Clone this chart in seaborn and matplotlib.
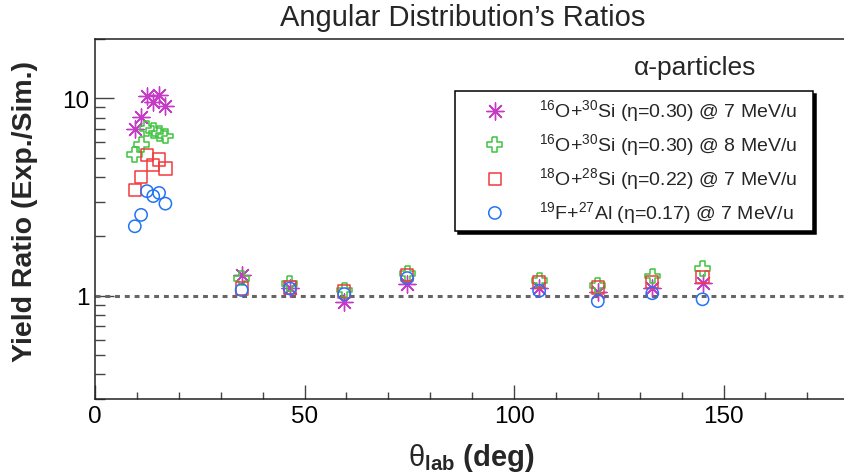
import numpy as np
import pandas as pd
import matplotlib
matplotlib.use('Agg')
import matplotlib.pyplot as plt
import seaborn as sns
from matplotlib.ticker import FuncFormatter, NullFormatter, LogLocator, MultipleLocator

# theta_lab (deg) - same angles for all four systems
angles = [9.5, 11.0, 12.4, 13.9, 15.3, 16.8, 35, 46.5, 59.5, 74.5, 106, 120, 133, 145]

# yield ratio exp/sim
o16_si30_7mev = [6.96, 8.07, 10.27, 9.62, 10.4, 9.14, 1.27, 1.09, 0.93, 1.15, 1.10, 1.04, 1.09, 1.16]
o16_si30_8mev = [5.2, 5.85, 7.05, 6.9, 6.63, 6.45, 1.23, 1.15, 1.07, 1.30, 1.19, 1.13, 1.26, 1.37]
o18_si28_7mev = [3.45, 4.0, 5.19, 4.58, 4.9, 4.41, 1.09, 1.10, 1.05, 1.27, 1.17, 1.10, 1.17, 1.25]
f19_al27_7mev = [2.25, 2.57, 3.39, 3.2, 3.32, 2.93, 1.07, 1.09, 1.02, 1.23, 1.06, 0.94, 1.03, 0.96]

labels = [r'$^{16}$O+$^{30}$Si (η=0.30) @ 7 MeV/u',
          r'$^{16}$O+$^{30}$Si (η=0.30) @ 8 MeV/u',
          r'$^{18}$O+$^{28}$Si (η=0.22) @ 7 MeV/u',
          r'$^{19}$F+$^{27}$Al (η=0.17) @ 7 MeV/u']

df = pd.DataFrame({'angle': angles * 4,
                   'ratio': o16_si30_7mev + o16_si30_8mev + o18_si28_7mev + f19_al27_7mev,
                   'system': np.repeat(labels, len(angles))})

sns.set_style('ticks')
plt.rcParams['font.family'] = ['Liberation Sans', 'DejaVu Sans']
plt.rcParams['mathtext.fontset'] = 'custom'
plt.rcParams['mathtext.rm'] = 'Liberation Sans'
plt.rcParams['mathtext.it'] = 'Liberation Sans:italic'
plt.rcParams['mathtext.bf'] = 'Liberation Sans:bold'

# open cross marker
w = 1 / 6
open_cross = [(-w, 0.5), (w, 0.5), (w, w), (0.5, w), (0.5, -w), (w, -w), (w, -0.5),
              (-w, -0.5), (-w, -w), (-0.5, -w), (-0.5, w), (-w, w), (-w, 0.5)]

colors = ['#c63bc6', '#3ec43e', '#f03c3c', '#2273f5']
markers = [(8, 2, 0), open_cross, 's', 'o']
sizes = [150, 115, 78, 78]

fig = plt.figure(figsize=(8.44, 4.77), dpi=100)
ax = fig.add_axes([95 / 844, 1 - 400 / 477, 754.2 / 844, 360 / 477])

ax.axhline(1, color='#666666', lw=2.2, dashes=(1.6, 1.6), zorder=1)

for lab, c, m, s in zip(labels, colors, markers, sizes):
    sub = df[df['system'] == lab]
    if m == (8, 2, 0):
        sns.scatterplot(data=sub, x='angle', y='ratio', ax=ax, marker=m, s=s,
                        color=c, linewidth=1.0, label=lab, zorder=3)
    else:
        sns.scatterplot(data=sub, x='angle', y='ratio', ax=ax, marker=m, s=s,
                        facecolor='none', edgecolor=c, linewidth=1.1, label=lab, zorder=3)

ax.set_yscale('log')
ax.set_xlim(0, 180)
ax.set_ylim(0.3, 20)

ax.xaxis.set_major_locator(MultipleLocator(50))
ax.xaxis.set_minor_locator(MultipleLocator(10))
ax.yaxis.set_major_locator(LogLocator(base=10))
ax.yaxis.set_minor_locator(LogLocator(base=10, subs=np.arange(2, 10)))
ax.yaxis.set_major_formatter(FuncFormatter(lambda v, p: f'{v:g}'))
ax.yaxis.set_minor_formatter(NullFormatter())

ax.tick_params(axis='both', which='both', direction='in', color='#444444',
               labelsize=17.5, labelcolor='black', width=1.0)
ax.tick_params(axis='x', which='major', length=10, pad=4)
ax.tick_params(axis='x', which='minor', length=5)
ax.tick_params(axis='y', which='major', length=14, pad=4)
ax.tick_params(axis='y', which='minor', length=7)

for sp in ['left', 'bottom', 'top']:
    ax.spines[sp].set_color('#222222')
    ax.spines[sp].set_linewidth(1.1)
ax.spines['right'].set_visible(False)

ax.set_xlabel('$\\mathrm{θ}_{\\mathbf{lab}}$ (deg)', fontsize=21, fontweight='bold')
ax.xaxis.set_label_coords(0.499, -0.161)
ax.xaxis.label.set_va('center')
ax.set_ylabel('Yield Ratio (Exp./Sim.)', fontsize=20.5, fontweight='bold')
ax.yaxis.set_label_coords(-0.0928, 0.524)
ax.yaxis.label.set_va('center')

fig.text(462.5 / 844, 1 - 18 / 477, 'Angular Distribution’s Ratios', fontsize=21,
         ha='center', va='center')
fig.text(695 / 844, 1 - 68 / 477, 'α-particles', fontsize=19, ha='center', va='center')

leg = ax.legend(loc='upper left', bbox_to_anchor=(455 / 844, 1 - 231 / 477, 358 / 844, 139 / 477),
                bbox_transform=fig.transFigure, mode='expand', borderaxespad=0,
                fontsize=14, frameon=True, fancybox=False, edgecolor='black', framealpha=1,
                shadow={'ox': 2, 'oy': -2, 'facecolor': 'black', 'edgecolor': 'black', 'alpha': 1},
                borderpad=0.3, handlelength=3.5, handletextpad=0.5, labelspacing=0.42)
leg.get_frame().set_linewidth(1.1)

fig.savefig('out.png', dpi=100)
